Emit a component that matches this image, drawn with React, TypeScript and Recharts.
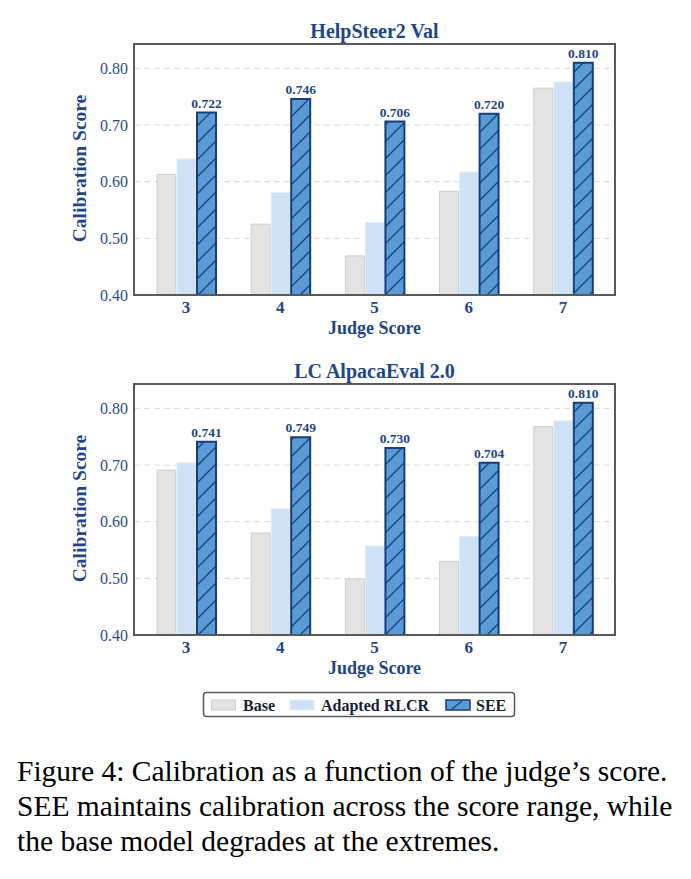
import React from 'react';
import { BarChart, Bar, XAxis, YAxis, CartesianGrid, LabelList } from 'recharts';

// Judge score buckets (x categories)
const judgeScores = ['3', '4', '5', '6', '7'];

// HelpSteer2 Val calibration scores
const helpSteerBase = [0.613, 0.525, 0.469, 0.583, 0.765];
const helpSteerRlcr = [0.640, 0.581, 0.528, 0.617, 0.776];
const helpSteerSee = [0.722, 0.746, 0.706, 0.720, 0.810];

// LC AlpacaEval 2.0 calibration scores
const alpacaBase = [0.691, 0.580, 0.499, 0.530, 0.768];
const alpacaRlcr = [0.704, 0.623, 0.557, 0.574, 0.778];
const alpacaSee = [0.741, 0.749, 0.730, 0.704, 0.810];

const yTicks = [0.4, 0.5, 0.6, 0.7, 0.8];
const legendLabels = ['Base', 'Adapted RLCR', 'SEE'];

const SERIF = '"Liberation Serif", "Times New Roman", Times, serif';
const NAVY = '#1f4787';
const TICK_BLUE = '#26508f';
const BASE_FILL = '#e3e3e3';
const BASE_EDGE = '#cdcdcd';
const RLCR_FILL = '#cfe2f5';
const RLCR_EDGE = '#e2edf9';
const SEE_FILL = '#5b9bd5';
const SEE_EDGE = '#173e7a';

type PanelProps = {
  title: string;
  base: number[];
  rlcr: number[];
  see: number[];
  top: number;
};

function Panel({ title, base, rlcr, see, top }: PanelProps) {
  const data = judgeScores.map((score, i) => ({
    score,
    base: base[i],
    rlcr: rlcr[i],
    see: see[i],
  }));

  // plot area in chart coordinates
  const plotLeft = 134;
  const plotTop = 44;
  const plotWidth = 481;
  const plotHeight = 251;

  return (
    <div style={{ position: 'absolute', left: 0, top, width: 691, height: 340 }}>
      <BarChart
        width={691}
        height={340}
        data={data}
        margin={{ top: plotTop, right: 691 - plotLeft - plotWidth, bottom: 340 - plotTop - plotHeight - 30, left: plotLeft - 60 }}
        barSize={19}
        barGap={1}
      >
        <CartesianGrid vertical={false} stroke="#dcdcdc" strokeDasharray="6 4" strokeWidth={1} />
        <XAxis
          dataKey="score"
          height={30}
          axisLine={false}
          tickLine={false}
          tickSize={6}
          tickMargin={0}
          interval={0}
          padding={{ left: 5, right: 5 }}
          tick={{ fill: NAVY, fontSize: 17, fontWeight: 700, fontFamily: SERIF }}
        />
        <YAxis
          width={60}
          domain={[0.4, 0.843]}
          ticks={yTicks}
          allowDataOverflow
          axisLine={false}
          tickLine={false}
          tickSize={6}
          tickMargin={0}
          tickFormatter={(v: number) => v.toFixed(2)}
          tick={{ fill: TICK_BLUE, fontSize: 16, fontFamily: SERIF }}
        />
        <Bar dataKey="base" fill={BASE_FILL} stroke={BASE_EDGE} strokeWidth={1} isAnimationActive={false} />
        <Bar dataKey="rlcr" fill={RLCR_FILL} stroke={RLCR_EDGE} strokeWidth={1} isAnimationActive={false} />
        <Bar dataKey="see" fill="url(#seeHatch)" stroke={SEE_EDGE} strokeWidth={2} isAnimationActive={false}>
          <LabelList
            dataKey="see"
            position="top"
            offset={5}
            formatter={(v: any) => Number(v).toFixed(3)}
            fill={NAVY}
            fontSize={13.5}
            fontWeight={700}
            fontFamily={SERIF}
          />
        </Bar>
      </BarChart>
      <svg
        width={691}
        height={340}
        style={{ position: 'absolute', left: 0, top: 0, pointerEvents: 'none' }}
      >
        <rect x={plotLeft} y={plotTop} width={plotWidth} height={plotHeight} fill="none" stroke="#595959" strokeWidth={2} />
        <text
          x={plotLeft + plotWidth / 2}
          y={31}
          textAnchor="middle"
          dominantBaseline="central"
          fontFamily={SERIF}
          fontWeight={700}
          fontSize={20}
          fill={NAVY}
        >
          {title}
        </text>
        <text
          x={plotLeft + plotWidth / 2}
          y={328}
          textAnchor="middle"
          dominantBaseline="central"
          fontFamily={SERIF}
          fontWeight={700}
          fontSize={18}
          fill={NAVY}
        >
          Judge Score
        </text>
        <text
          x={0}
          y={0}
          transform={`translate(79, ${plotTop + plotHeight / 2 - 1}) rotate(-90)`}
          textAnchor="middle"
          dominantBaseline="central"
          fontFamily={SERIF}
          fontWeight={700}
          fontSize={19.5}
          fill={NAVY}
        >
          Calibration Score
        </text>
      </svg>
    </div>
  );
}

function Legend() {
  const textStyle = { fontFamily: SERIF, fontWeight: 700, fontSize: 16, fill: '#1a2336' };
  return (
    <svg width={691} height={40} style={{ position: 'absolute', left: 0, top: 685 }}>
      <rect x={203.5} y={7.5} width={311} height={24} rx={3} fill="#ffffff" stroke="#5a5a5a" strokeWidth={1.5} />
      <rect x={211.5} y={15} width={24} height={10} fill={BASE_FILL} stroke={BASE_EDGE} strokeWidth={1} />
      <text x={243} y={20} dominantBaseline="central" {...textStyle}>{legendLabels[0]}</text>
      <rect x={290} y={15} width={24} height={10} fill={RLCR_FILL} stroke={RLCR_EDGE} strokeWidth={1} />
      <text x={321} y={20} dominantBaseline="central" {...textStyle}>{legendLabels[1]}</text>
      <rect x={446} y={15} width={24} height={10} fill={SEE_FILL} stroke={SEE_EDGE} strokeWidth={1.5} />
      <line x1={452} y1={24} x2={462} y2={16} stroke={SEE_EDGE} strokeWidth={1.2} />
      <text x={476} y={20} dominantBaseline="central" {...textStyle}>{legendLabels[2]}</text>
    </svg>
  );
}

export default function App() {
  return (
    <div style={{ position: 'absolute', left: 0, top: 0, width: 691, height: 879, background: '#ffffff', overflow: 'hidden' }}>
      <svg width={0} height={0} style={{ position: 'absolute' }}>
        <defs>
          <pattern id="seeHatch" patternUnits="userSpaceOnUse" width={17} height={17}>
            <rect x={0} y={0} width={17} height={17} fill={SEE_FILL} />
            <path d="M0,17 L17,0 M-3,3 L3,-3 M14,20 L20,14" stroke={SEE_EDGE} strokeWidth={1.3} />
          </pattern>
        </defs>
      </svg>
      <Panel title="HelpSteer2 Val" base={helpSteerBase} rlcr={helpSteerRlcr} see={helpSteerSee} top={0} />
      <Panel title="LC AlpacaEval 2.0" base={alpacaBase} rlcr={alpacaRlcr} see={alpacaSee} top={340} />
      <Legend />
      <div
        style={{
          position: 'absolute',
          left: 17,
          top: 754,
          fontFamily: SERIF,
          fontSize: 29.5,
          lineHeight: '35px',
          color: '#000000',
          whiteSpace: 'nowrap',
        }}
      >
        Figure 4: Calibration as a function of the judge’s score.
        <br />
        SEE maintains calibration across the score range, while
        <br />
        the base model degrades at the extremes.
      </div>
    </div>
  );
}
